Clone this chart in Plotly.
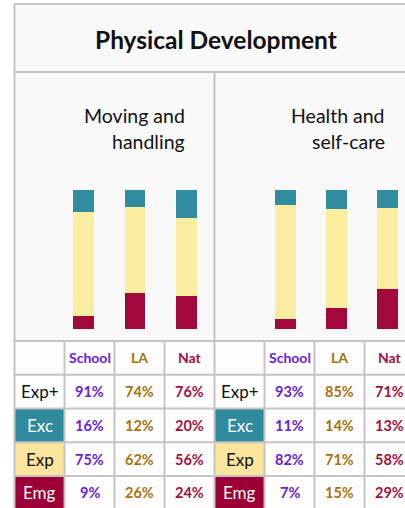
import plotly.graph_objects as go

# ---------------- data ----------------
title_text = "Physical Development"
categories = ["School", "LA", "Nat"]
area_names = ["Moving and\nhandling", "Health and\nself-care"]
row_labels = ["Exp+", "Exc", "Exp", "Emg"]

moving_expplus = [91, 74, 76]
moving_exc = [16, 12, 20]
moving_exp = [75, 62, 56]
moving_emg = [9, 26, 24]

health_expplus = [93, 85, 71]
health_exc = [11, 14, 13]
health_exp = [82, 71, 58]
health_emg = [7, 15, 29]

# ---------------- style ----------------
W, H = 405, 508
FONT = "Lato"
GRID = "#c4c4c4"
BG = "#f9f9f9"
C_EXC = "#328c9f"
C_EXP = "#fbeda0"
C_EMG = "#a3083c"
LBL_FILL = ["#ffffff", "#2f8a9d", "#fbe59c", "#9c0037"]
LBL_FONT = ["#111111", "#ffffff", "#111111", "#ffffff"]
CAT_COLORS = ["#6a22d8", "#a8720e", "#a3103d"]


def xp(x):
    return x / W


def yp(y):
    return 1 - y / H


fig = go.Figure()

panels = [
    dict(exc=moving_exc, exp=moving_exp, emg=moving_emg, xa="x", ya="y"),
    dict(exc=health_exc, exp=health_exp, emg=health_emg, xa="x2", ya="y2"),
]
for p in panels:
    for name, vals, col in [("Emg", p["emg"], C_EMG), ("Exp", p["exp"], C_EXP), ("Exc", p["exc"], C_EXC)]:
        fig.add_trace(go.Bar(x=categories, y=vals, name=name, marker_color=col,
                             marker_line_width=0, xaxis=p["xa"], yaxis=p["ya"],
                             showlegend=False, hoverinfo="skip"))

ydom = [yp(329), yp(190)]
fig.update_layout(
    width=W, height=H, margin=dict(l=0, r=0, t=0, b=0),
    paper_bgcolor="white", plot_bgcolor="rgba(0,0,0,0)",
    barmode="stack", bargap=0.595,
    xaxis=dict(domain=[xp(57.75), xp(212.25)], range=[-0.5, 2.5], visible=False),
    yaxis=dict(domain=ydom, range=[0, 100], visible=False),
    xaxis2=dict(domain=[xp(260), 1], range=[-0.5, -0.5 + 145 / 51], visible=False, anchor="y2"),
    yaxis2=dict(domain=ydom, range=[0, 100], visible=False, anchor="x2"),
    font=dict(family=FONT),
)

shapes = []
ann = []

# frame background
shapes.append(dict(type="rect", xref="paper", yref="paper", x0=xp(14.5), x1=1, y0=0, y1=yp(4),
                   fillcolor=BG, line_width=0, layer="below"))

# table geometry
col_w = 50.0
x_start = 14.5
row_edges = [341 + 33.75 * i for i in range(6)]
all_tables = [(moving_expplus, moving_exc, moving_exp, moving_emg),
              (health_expplus, health_exc, health_exp, health_emg)]

# cell backgrounds (white)
shapes.append(dict(type="rect", xref="paper", yref="paper", x0=xp(x_start), x1=1,
                   y0=0, y1=yp(row_edges[0]), fillcolor="#fdfdfd", line_width=0, layer="below"))

for t, tbl in enumerate(all_tables):
    x0 = x_start + t * 4 * col_w
    # label cells
    for r, lab in enumerate(row_labels):
        ya, yb = row_edges[r + 1], row_edges[r + 2]
        shapes.append(dict(type="rect", xref="paper", yref="paper",
                           x0=xp(x0), x1=xp(x0 + col_w), y0=yp(yb), y1=yp(ya),
                           fillcolor=LBL_FILL[r], line_width=0, layer="below"))
        ann.append(dict(x=xp(x0 + col_w / 2), y=yp((ya + yb) / 2), xref="paper", yref="paper",
                        text=lab, showarrow=False, xanchor="center", yanchor="middle",
                        font=dict(family=FONT, size=17, color=LBL_FONT[r])))
    # header
    for c, cat in enumerate(categories):
        cx = x0 + col_w * (c + 1) + col_w / 2
        ann.append(dict(x=xp(cx), y=yp((row_edges[0] + row_edges[1]) / 2), xref="paper", yref="paper",
                        text=f"<b>{cat}</b>", showarrow=False, xanchor="center", yanchor="middle",
                        font=dict(family=FONT, size=14, color=CAT_COLORS[c])))
        for r, series in enumerate(tbl):
            ya, yb = row_edges[r + 1], row_edges[r + 2]
            ann.append(dict(x=xp(cx), y=yp((ya + yb) / 2), xref="paper", yref="paper",
                            text=f"<b>{series[c]}%</b>", showarrow=False, xanchor="center",
                            yanchor="middle",
                            font=dict(family=FONT, size=14.5, color=CAT_COLORS[c])))

# grid lines
for i in range(9):
    x = x_start + col_w * i
    y_top = 4 if i == 0 else (72 if i == 4 else row_edges[0])
    shapes.append(dict(type="line", xref="paper", yref="paper", x0=xp(x), x1=xp(x),
                       y0=yp(y_top), y1=0, line=dict(color=GRID, width=2)))
for y in [4, 72] + row_edges[:5]:
    shapes.append(dict(type="line", xref="paper", yref="paper", x0=xp(x_start), x1=1,
                       y0=yp(y), y1=yp(y), line=dict(color=GRID, width=2)))

# title
ann.append(dict(x=xp(216), y=yp(40), xref="paper", yref="paper", text=f"<b>{title_text}</b>",
                showarrow=False, xanchor="center", yanchor="middle",
                font=dict(family=FONT, size=24.5, color="#111111")))

# area titles
for i, name in enumerate(area_names):
    xr = 187 + 200 * i
    for j, line in enumerate(name.split("\n")):
        ann.append(dict(x=xp(xr), y=yp(115 + 27 * j), xref="paper", yref="paper", text=line,
                        showarrow=False, xanchor="right", yanchor="middle",
                        font=dict(family=FONT, size=19.5, color="#111111")))

fig.update_layout(shapes=shapes, annotations=ann)
fig.write_html("out.html", config={"displayModeBar": False},
               post_script="document.body.style.margin='0px';document.body.style.overflow='hidden';")
